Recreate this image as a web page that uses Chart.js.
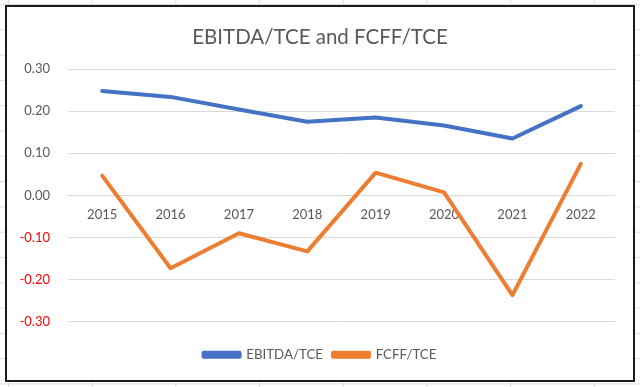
<!DOCTYPE html>
<html>
<head>
<meta charset="utf-8">
<script src="https://cdn.jsdelivr.net/npm/chart.js@4/dist/chart.umd.min.js"></script>
<style>
  html, body { margin: 0; padding: 0; }
  body {
    width: 640px; height: 387px; position: relative; overflow: hidden;
    background-color: #fff;
    /* faint spreadsheet cells behind the chart box */
    background-image: linear-gradient(#dcdcdc 1px, transparent 1px), linear-gradient(90deg, #dcdcdc 1px, transparent 1px);
    background-size: 83.7px 25.3px;
    background-position: 8px 4px;
  }
  #box { position: absolute; left: 5px; top: 5px; width: 630px; height: 377px; box-sizing: border-box; border: 2px solid #1a1a1a; background: #fff; }
  #wrap { position: absolute; left: 0; top: 0; width: 640px; height: 387px; }
</style>
</head>
<body>
<div id="box"></div>
<div id="wrap"><canvas id="c"></canvas></div>
<script>
/* ===== EBITDA/TCE vs FCFF/TCE ===== */
const YEARS = ['2015', '2016', '2017', '2018', '2019', '2020', '2021', '2022'];
const EBITDA_TCE = [0.248, 0.234, 0.204, 0.175, 0.185, 0.166, 0.135, 0.212];
const FCFF_TCE = [0.047, -0.173, -0.090, -0.133, 0.054, 0.007, -0.237, 0.075];
const Y_MIN = -0.3, Y_MAX = 0.3, Y_STEP = 0.1;

const FONT = 'Lato, "Open Sans", sans-serif';
const GREY = '#595959';

const line = (label, data, color) => ({
  label, data, xAxisID: 'x', yAxisID: 'y',
  borderColor: color, backgroundColor: color,
  borderWidth: 4, pointRadius: 0, tension: 0,
  borderCapStyle: 'round', borderJoinStyle: 'round',
});

// empty axis used only to reserve space
const spacer = (axis, position, size) => ({
  axis, type: 'linear', position,
  grid: { display: false, drawTicks: false }, border: { display: false }, ticks: { display: false },
  afterFit: s => { if (axis === 'x') s.height = size; else s.width = size; },
});

new Chart(document.getElementById('c'), {
  type: 'line',
  data: {
    labels: YEARS,
    datasets: [
      line('EBITDA/TCE', EBITDA_TCE, '#4472C4'),
      line('FCFF/TCE', FCFF_TCE, '#ED7D31'),
    ],
  },
  options: {
    responsive: true, maintainAspectRatio: false, animation: false,
    layout: { padding: { left: 12, right: 12, top: 0, bottom: 15.5 } },
    plugins: {
      title: {
        display: true, text: 'EBITDA/TCE and FCFF/TCE', color: GREY,
        font: { family: FONT, size: 20.5, weight: 'normal' },
        padding: { top: 25.5, bottom: 19 },
      },
      legend: {
        position: 'bottom',
        labels: { color: GREY, font: { family: FONT, size: 13.3 }, boxWidth: 36, boxHeight: 4, padding: 10 },
      },
      tooltip: { enabled: false },
    },
    scales: {
      x: {
        position: { y: 0 }, offset: true,
        grid: { display: false, drawTicks: false }, border: { display: false },
        ticks: { color: GREY, font: { family: FONT, size: 13 }, padding: 12, maxRotation: 0 },
      },
      padB: spacer('x', 'bottom', 16.5),
      padR: spacer('y', 'right', 13),
      y: {
        min: Y_MIN, max: Y_MAX,
        grid: { color: '#d9d9d9', lineWidth: 1, drawTicks: false }, border: { display: false },
        ticks: {
          stepSize: Y_STEP, padding: 18,
          font: { family: FONT, size: 13 },
          color: c => c.tick.value < -1e-9 ? '#FF0000' : GREY,
          callback: v => v.toFixed(2),
        },
        afterFit: s => { s.width = 56; },
      },
    },
  },
});
</script>
</body>
</html>
